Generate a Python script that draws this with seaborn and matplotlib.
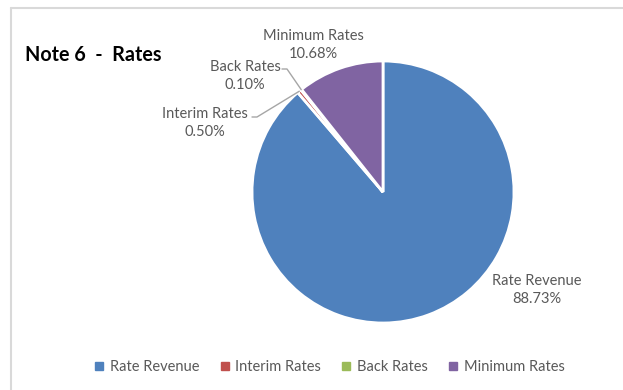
import numpy as np
import matplotlib
matplotlib.use("Agg")
import matplotlib.pyplot as plt
from matplotlib.lines import Line2D
import seaborn as sns

categories = ["Rate Revenue", "Interim Rates", "Back Rates", "Minimum Rates"]
values = [88.73, 0.50, 0.10, 10.68]
pct_labels = ["88.73%", "0.50%", "0.10%", "10.68%"]
colors = ["#4F81BD", "#C0504D", "#9BBB59", "#8064A2"]
title = "Note 6  -  Rates"

sns.set_theme(style="white")
plt.rcParams["font.family"] = ["Lato", "DejaVu Sans"]

W, H = 623, 390
fig = plt.figure(figsize=(W / 100, H / 100), dpi=100)
cx, cy, r = 383, 192, 131
ax = fig.add_axes([(cx - r) / W, 1 - (cy + r) / H, 2 * r / W, 2 * r / H])

palette = sns.color_palette(colors)
wedges, _ = ax.pie(values, colors=palette, startangle=90, counterclock=False,
                   radius=1, wedgeprops=dict(edgecolor="white", linewidth=2.0))
ax.set_xlim(-1, 1)
ax.set_ylim(-1, 1)
ax.set_aspect("equal")
ax.axis("off")

def px2d(px, py):
    return (px - cx) / r, (cy - py) / r

txtc = "#595959"
fs = 10.5
label_pos = {"Rate Revenue": (537, 290), "Interim Rates": (205, 123),
             "Back Rates": (245, 76), "Minimum Rates": (313.5, 45)}
for cat, pct in zip(categories, pct_labels):
    x, y = px2d(*label_pos[cat])
    ax.text(x, y, f"{cat}\n{pct}", ha="center", va="center", fontsize=fs,
            color=txtc, linespacing=1.35, clip_on=False)

leaders = {"Interim Rates": [(252, 117), (257, 117)], "Back Rates": [(282, 69), (287, 69)]}
for i, cat in enumerate(categories):
    if cat in leaders:
        w = wedges[i]
        ang = np.deg2rad((w.theta1 + w.theta2) / 2)
        pts = [px2d(*p) for p in leaders[cat]] + [(np.cos(ang), np.sin(ang))]
        xs, ys = zip(*pts)
        ax.plot(xs, ys, color="#A6A6A6", lw=1.0, clip_on=False)

fig.text(25 / W, 1 - 55 / H, title, fontsize=14.2, fontweight="bold",
         color="black", ha="left", va="center")

handles = [Line2D([0], [0], marker="s", color="none", markerfacecolor=c,
                  markeredgecolor=c, markersize=5.5) for c in palette]
fig.legend(handles, categories, loc="center", bbox_to_anchor=(329 / W, 1 - 367 / H),
           ncol=4, frameon=False, fontsize=fs, labelcolor=txtc,
           handlelength=0.8, handletextpad=0.35, columnspacing=1.3)

bc = "#D9D9D9"
fig.add_artist(Line2D([11 / W, 11 / W], [0, 1 - 8 / H], color=bc, lw=1.5,
                      transform=fig.transFigure))
fig.add_artist(Line2D([11 / W, 1], [1 - 8 / H, 1 - 8 / H], color=bc, lw=1.5,
                      transform=fig.transFigure))

fig.savefig("out.png", dpi=100, facecolor="white")
